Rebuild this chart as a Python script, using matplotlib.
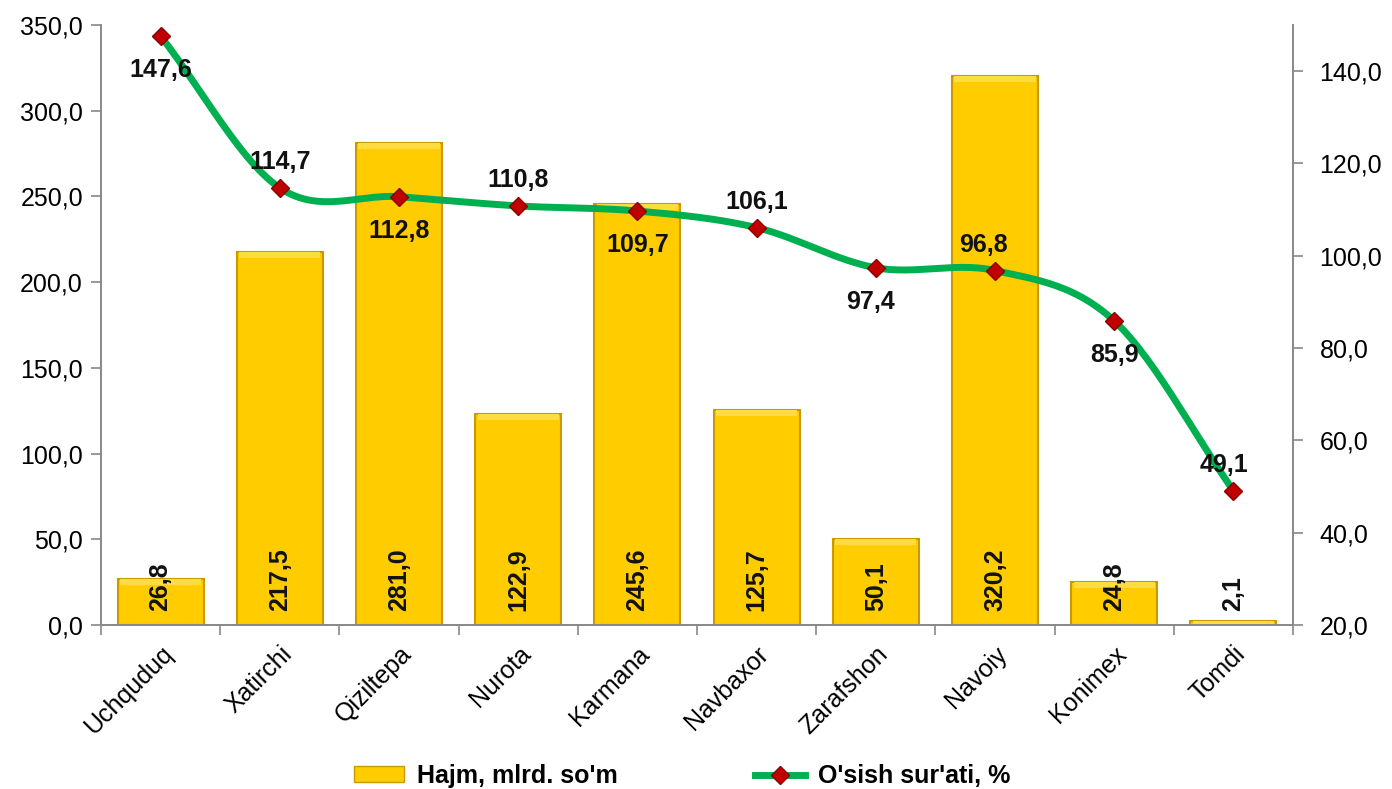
import numpy as np
import matplotlib.pyplot as plt
from matplotlib.lines import Line2D
from matplotlib.patches import Patch
from matplotlib.ticker import FuncFormatter, FixedLocator

plt.rcParams['font.family'] = ['Liberation Sans', 'DejaVu Sans']

districts = ['Uchquduq', 'Xatirchi', 'Qiziltepa', 'Nurota', 'Karmana',
             'Navbaxor', 'Zarafshon', 'Navoiy', 'Konimex', 'Tomdi']
volume = [26.8, 217.5, 281.0, 122.9, 245.6, 125.7, 50.1, 320.2, 24.8, 2.1]
growth = [147.6, 114.7, 112.8, 110.8, 109.7, 106.1, 97.4, 96.8, 85.9, 49.1]
# label side for growth values: 1 above, -1 below
growth_side = [-1, 1, -1, 1, -1, 1, -1, 1, -1, 1]
# small horizontal nudge of growth labels (points)
growth_dx = [0, 0, 0, 0, 0, 0, -4, -8, 0, -7]


def comma(v, pos=None):
    return f'{v:.1f}'.replace('.', ',')


def catmull_rom(x, y, n=30):
    x = np.asarray(x, float)
    y = np.asarray(y, float)
    px = np.concatenate([[2 * x[0] - x[1]], x, [2 * x[-1] - x[-2]]])
    py = np.concatenate([[2 * y[0] - y[1]], y, [2 * y[-1] - y[-2]]])
    xs, ys = [], []
    t = np.linspace(0, 1, n)
    for i in range(1, len(px) - 2):
        for p, out in ((px, xs), (py, ys)):
            p0, p1, p2, p3 = p[i - 1], p[i], p[i + 1], p[i + 2]
            out.extend(0.5 * (2 * p1 + (-p0 + p2) * t
                              + (2 * p0 - 5 * p1 + 4 * p2 - p3) * t ** 2
                              + (-p0 + 3 * p1 - 3 * p2 + p3) * t ** 3))
    return np.array(xs), np.array(ys)


fig = plt.figure(figsize=(13.92, 7.89), dpi=100)
ax = fig.add_axes([101 / 1392, 1 - 625 / 789, 1192 / 1392, 600 / 789])
ax2 = ax.twinx()

x = np.arange(len(districts))
bars = ax.bar(x, volume, width=0.72, color='#FFCC00', edgecolor='#C99A00',
              linewidth=1.5, zorder=2)
# light bevel along the top of each bar
ax.bar(x, [min(v, 3.5) for v in volume], bottom=[max(v - 3.5, 0) for v in volume],
       width=0.68, color='#FFDD40', linewidth=0, zorder=2.5)
for xi, v in zip(x, volume):
    ax.text(xi, 8, comma(v), rotation=90, ha='center', va='bottom',
            fontsize=18, fontweight='bold', color='#111111', zorder=5)

ax.set_xlim(-0.5, len(districts) - 0.5)
ax.set_ylim(0, 350)
ax.set_yticks(np.arange(0, 351, 50))
ax.yaxis.set_major_formatter(FuncFormatter(comma))
ax.set_xticks(x)
ax.set_xticklabels(districts, rotation=45, ha='right', rotation_mode='anchor',
                   fontsize=18)
ax.tick_params(axis='x', length=0, pad=12)
ax.xaxis.set_minor_locator(FixedLocator(np.arange(-0.5, len(districts), 1)))
ax.tick_params(axis='x', which='minor', length=7, color='#888888', width=1.2)
ax.tick_params(axis='y', labelsize=18, length=7, color='#888888', width=1.2, pad=6)

ax2.set_ylim(20, 150)
ax2.set_yticks(np.arange(20, 141, 20))
ax2.yaxis.set_major_formatter(FuncFormatter(comma))
ax2.tick_params(axis='y', labelsize=18, length=7, color='#888888', width=1.2, pad=12)

sx, sy = catmull_rom(x, growth)
ax2.plot(sx, sy, color='#00B050', linewidth=5, zorder=3, solid_capstyle='round')
ax2.plot(x, growth, linestyle='none', marker='D', markersize=9,
         markerfacecolor='#C00000', markeredgecolor='#8B0000', zorder=4)
for xi, v, s, dx in zip(x, growth, growth_side, growth_dx):
    dy = 10 if s > 0 else -16
    ax2.annotate(comma(v), (xi, v), xytext=(dx, dy),
                 textcoords='offset points', ha='center',
                 va='bottom' if s > 0 else 'top', fontsize=18,
                 fontweight='bold', color='#111111', zorder=6)

for a in (ax, ax2):
    a.spines['top'].set_visible(False)
    for s in ('left', 'right', 'bottom'):
        a.spines[s].set_color('#888888')
        a.spines[s].set_linewidth(1.2)
ax.set_zorder(ax2.get_zorder() - 1)
ax.patch.set_visible(False)

handles = [Patch(facecolor='#FFCC00', edgecolor='#C99A00'),
           Line2D([0], [0], color='#00B050', linewidth=5, marker='D',
                  markersize=9, markerfacecolor='#C00000',
                  markeredgecolor='#8B0000')]
fig.legend(handles, ['Hajm, mlrd. so\'m', 'O\'sish sur\'ati, %'],
           loc='center', bbox_to_anchor=(0.49, 1 - 776 / 789), ncol=2,
           frameon=False, prop={'size': 18, 'weight': 'bold'},
           columnspacing=5.5, handlelength=2.0, handletextpad=0.5,
           handleheight=0.6)

fig.savefig('out.png', dpi=100)
